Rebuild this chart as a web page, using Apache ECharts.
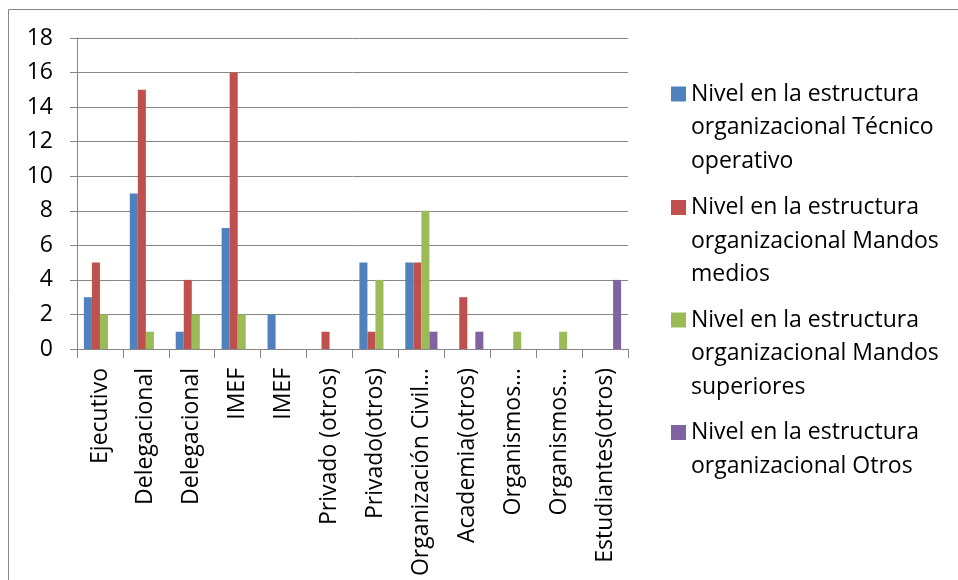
<!DOCTYPE html>
<html>
<head>
<meta charset="utf-8">
<script src="https://cdn.jsdelivr.net/npm/echarts@6/dist/echarts.min.js"></script>
<style>
  html, body { margin: 0; padding: 0; background: #fff; }
  #chart { width: 958px; height: 580px; }
</style>
</head>
<body>
<div id="chart"></div>
<script>
const categories = [
  'Ejecutivo', 'Delegacional', 'Delegacional', 'IMEF', 'IMEF',
  'Privado (otros)', 'Privado(otros)', 'Organización Civil…', 'Academia(otros)',
  'Organismos…', 'Organismos…', 'Estudiantes(otros)'
];
const seriesNames = [
  'Nivel en la estructura organizacional Técnico operativo',
  'Nivel en la estructura organizacional Mandos medios',
  'Nivel en la estructura organizacional Mandos superiores',
  'Nivel en la estructura organizacional Otros'
];
const legendLines = [
  ['Nivel en la estructura', 'organizacional Técnico', 'operativo'],
  ['Nivel en la estructura', 'organizacional Mandos', 'medios'],
  ['Nivel en la estructura', 'organizacional Mandos', 'superiores'],
  ['Nivel en la estructura', 'organizacional Otros']
];
const tecnicoOperativo = [3, 9, 1, 7, 2, 0, 5, 5, 0, 0, 0, 0];
const mandosMedios     = [5, 15, 4, 16, 0, 1, 1, 5, 3, 0, 0, 0];
const mandosSuperiores = [2, 1, 2, 2, 0, 0, 4, 8, 0, 1, 1, 0];
const otros            = [0, 0, 0, 0, 0, 0, 0, 1, 1, 0, 0, 4];
const seriesValues = [tecnicoOperativo, mandosMedios, mandosSuperiores, otros];
const colors = ['#4F81BD', '#C0504D', '#9BBB59', '#8064A2'];

const FONT = 'Open Sans';
const FS = 23;
const LH = 33.5;
const AXIS = '#868686';
const firstLineCenters = [94, 207.5, 320, 432.5];

const legends = seriesNames.map((name, i) => {
  const n = legendLines[i].length;
  return {
    orient: 'vertical',
    left: 671,
    top: firstLineCenters[i] - LH / 2 - (n - 1) * LH,
    padding: 0,
    itemWidth: 15,
    itemHeight: 15,
    itemGap: 5,
    icon: 'rect',
    data: [name],
    formatter: () => '\n'.repeat(n - 1) + legendLines[i].join('\n'),
    textStyle: {
      fontFamily: FONT,
      fontSize: FS,
      lineHeight: LH,
      color: '#000'
    }
  };
});

const chart = echarts.init(document.getElementById('chart'), null, { renderer: 'canvas' });
chart.setOption({
  animation: false,
  color: colors,
  textStyle: { fontFamily: FONT },
  graphic: [{
    type: 'rect',
    shape: { x: 8.5, y: 9.5, width: 1200, height: 1200 },
    style: { fill: 'none', stroke: AXIS, lineWidth: 1 },
    silent: true
  }],
  grid: { left: 77, top: 38, width: 551, height: 311 },
  legend: legends,
  xAxis: {
    type: 'category',
    data: categories,
    axisLine: { show: true, lineStyle: { color: AXIS, width: 1 } },
    axisTick: { show: true, length: 9, lineStyle: { color: AXIS } },
    axisLabel: {
      rotate: 90,
      interval: 0,
      margin: 19,
      color: '#000',
      fontFamily: FONT,
      fontSize: FS
    },
    splitLine: { show: false }
  },
  yAxis: {
    type: 'value',
    min: 0,
    max: 18,
    interval: 2,
    axisLine: { show: true, lineStyle: { color: AXIS, width: 1 } },
    axisTick: { show: true, length: 7, lineStyle: { color: AXIS } },
    axisLabel: { margin: 24, color: '#000', fontFamily: FONT, fontSize: FS },
    splitLine: { show: true, lineStyle: { color: AXIS, width: 1 } }
  },
  series: seriesNames.map((name, i) => ({
    name: name,
    type: 'bar',
    data: seriesValues[i],
    barGap: '0%',
    barCategoryGap: '30%',
    itemStyle: { color: colors[i] }
  }))
});
</script>
</body>
</html>
